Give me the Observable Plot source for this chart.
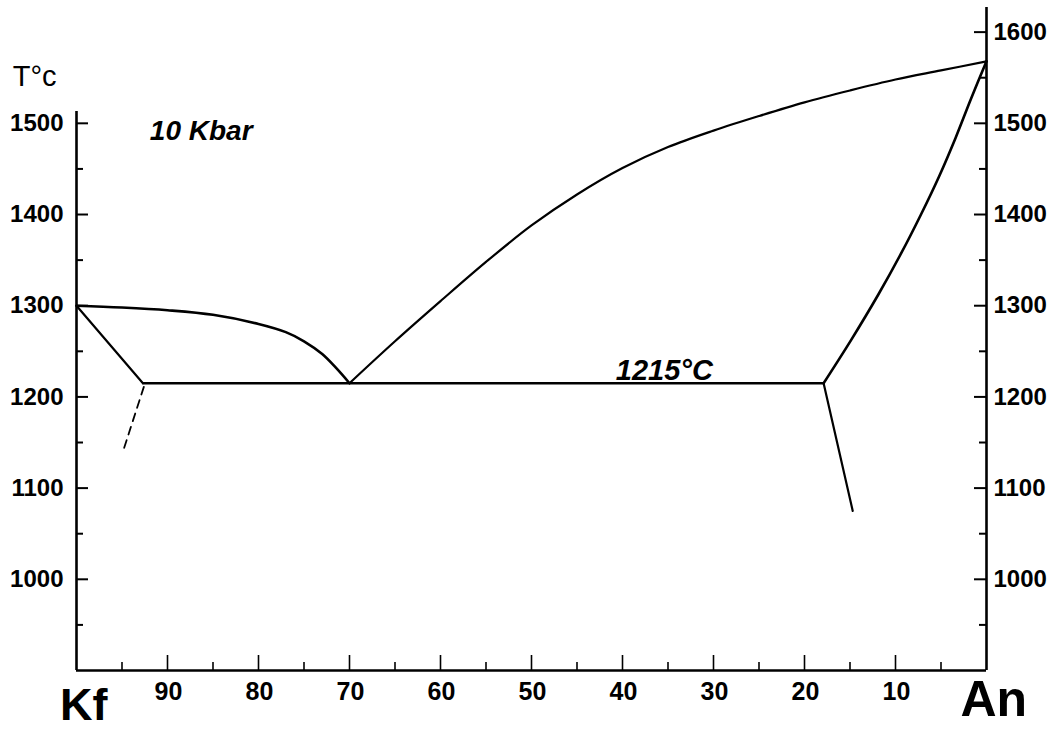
<!DOCTYPE html>
<html><head><meta charset="utf-8">
<script src="https://cdn.jsdelivr.net/npm/d3@7"></script>
<script src="https://cdn.jsdelivr.net/npm/@observablehq/plot@0.6"></script>
<style>body{margin:0;background:#fff} #chart{width:1061px;height:730px}</style>
</head><body><div id="chart"></div>
<script>
// Kf–An binary phase diagram at 10 kbar (x = wt% Kf, 100 at left, 0 at right)
const kfLiquidusX = [100, 95, 90, 85, 80, 77, 75, 73, 71.5, 70];
const kfLiquidusT = [1300, 1298, 1295, 1290, 1280, 1271, 1261, 1247, 1232, 1215];
const anLiquidusX = [70, 65, 60, 55, 50, 45, 40, 35, 30, 25, 20, 15, 10, 5, 0];
const anLiquidusT = [1215, 1261, 1305, 1348, 1388, 1422, 1451, 1474, 1492, 1508, 1523, 1536, 1548, 1558, 1568];
const anSolidusX = [17.9, 14.9, 11.9, 9.4, 7.2, 5.2, 3.4, 1.7, 0];
const anSolidusT = [1215, 1262, 1312, 1357, 1400, 1442, 1484, 1527, 1568];
const kfSolidusX = [100, 92.7];
const kfSolidusT = [1300, 1215];
const kfSolvusX = [92.6, 94.8];
const kfSolvusT = [1211, 1143];
const anSolvusX = [17.9, 14.7];
const anSolvusT = [1215, 1075];
const eutecticX = [92.7, 17.9];
const eutecticT = 1215;

const xLabels = [90, 80, 70, 60, 50, 40, 30, 20, 10];
const xMinor = [95, 85, 75, 65, 55, 45, 35, 25, 15, 5];
const yLeftLabels = [1500, 1400, 1300, 1200, 1100, 1000];
const yLeftMinor = [1450, 1350, 1250, 1150, 1050, 950];
const yRightLabels = [1600, 1500, 1400, 1300, 1200, 1100, 1000];
const yRightMinor = [1550, 1450, 1350, 1250, 1150, 1050, 950];
const leftAxisTop = 1513;
const rightAxisTop = 1627;

const W = 1061, H = 730, ML = 76, MR = 75, MT = 7, MB = 60;
const frameW = W - ML - MR, frameH = H - MT - MB;
const pts = (xs, ts) => xs.map((x, i) => ({x, t: ts[i]}));
const font = "'Liberation Sans', Arial, Helvetica, sans-serif";
const lw = 2.2;

const chart = Plot.plot({
  width: W, height: H,
  marginLeft: ML, marginRight: MR, marginTop: MT, marginBottom: MB,
  x: {domain: [100, 0], axis: null},
  y: {domain: [900, rightAxisTop], axis: null},
  style: {fontFamily: font, background: "white", color: "black", overflow: "visible"},
  marks: [
    // axes lines
    Plot.ruleX([100], {y1: 900, y2: leftAxisTop, strokeWidth: 2.6}),
    Plot.ruleX([0], {y1: 900, y2: rightAxisTop, strokeWidth: 2.6}),
    Plot.ruleY([900], {x1: 100, x2: 0, strokeWidth: 2.6}),
    // inward ticks
    Plot.tickY(yLeftLabels, {y: d => d, insetRight: frameW - 12, strokeWidth: 2}),
    Plot.tickY(yLeftMinor, {y: d => d, insetRight: frameW - 7, strokeWidth: 2}),
    Plot.tickY(yRightLabels, {y: d => d, insetLeft: frameW - 12, strokeWidth: 2}),
    Plot.tickY(yRightMinor, {y: d => d, insetLeft: frameW - 7, strokeWidth: 2}),
    Plot.tickX(xLabels, {x: d => d, insetTop: frameH - 15, strokeWidth: 1.6}),
    Plot.tickX(xMinor, {x: d => d, insetTop: frameH - 8, strokeWidth: 1.6}),
    // tick labels
    Plot.text(yLeftLabels, {x: 100, y: d => d, text: d => String(d), textAnchor: "end", dx: -13, fontSize: 24, fontWeight: "bold"}),
    Plot.text(yRightLabels, {x: 0, y: d => d, text: d => String(d), textAnchor: "start", dx: 7, fontSize: 24, fontWeight: "bold"}),
    Plot.text(xLabels, {x: d => d, y: 900, text: d => String(d), dy: 21, dx: 1, fontSize: 25, fontWeight: "bold"}),
    // phase boundaries
    Plot.line(pts(kfLiquidusX, kfLiquidusT), {x: "x", y: "t", curve: "catmull-rom", strokeWidth: 2.6}),
    Plot.line(pts(anLiquidusX, anLiquidusT), {x: "x", y: "t", curve: "catmull-rom", strokeWidth: lw}),
    Plot.line(pts(anSolidusX, anSolidusT), {x: "x", y: "t", curve: "catmull-rom", strokeWidth: 2.6}),
    Plot.line(pts(kfSolidusX, kfSolidusT), {x: "x", y: "t", strokeWidth: lw}),
    Plot.line(pts(kfSolvusX, kfSolvusT), {x: "x", y: "t", strokeWidth: 1.8, strokeDasharray: "8,6"}),
    Plot.line(pts(anSolvusX, anSolvusT), {x: "x", y: "t", strokeWidth: lw}),
    Plot.ruleY([eutecticT], {x1: eutecticX[0], x2: eutecticX[1], strokeWidth: 2.4}),
    // annotations
    Plot.text(["1215°C"], {x: 35.4, y: eutecticT, dy: -13, text: d => d, fontSize: 29, fontWeight: "bold", fontStyle: "italic"}),
    Plot.text(["10 Kbar"], {x: 86.3, y: 1492, text: d => d, fontSize: 28, fontWeight: "bold", fontStyle: "italic"}),
    Plot.text(["T°c"], {x: 104.6, y: 1551, text: d => d, fontSize: 29}),
    Plot.text(["Kf"], {x: 99.2, y: 861, text: d => d, fontSize: 45, fontWeight: "bold"}),
    Plot.text(["An"], {x: -0.8, y: 868, text: d => d, fontSize: 50, fontWeight: "bold"})
  ]
});
document.getElementById("chart").appendChild(chart);
</script>
</body></html>
